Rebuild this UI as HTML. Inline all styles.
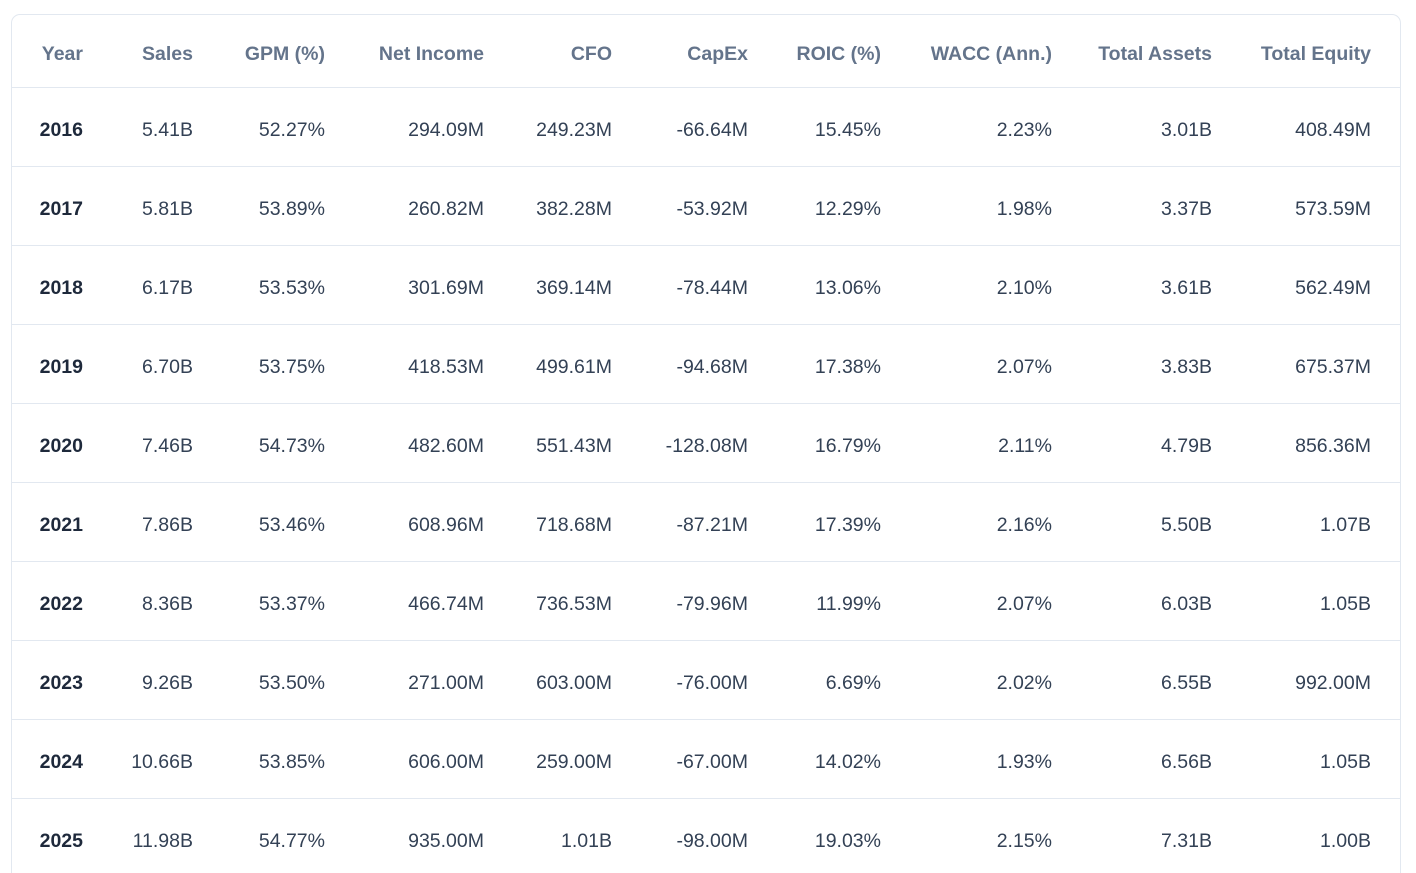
<!DOCTYPE html>
<html style="margin:0;width:1416px;height:873px;overflow:hidden"><head><meta charset="utf-8"><style>
body{margin:0;background:#fff;width:1416px;height:873px;overflow:hidden;position:relative;font-family:"Liberation Sans",sans-serif;}
.card{position:absolute;left:11px;top:14px;width:1388px;height:880px;border:1px solid #e2e8f0;border-radius:9px;}
.row{position:absolute;left:12px;width:1388px;border-bottom:1px solid #e2e8f0;}
.c{position:absolute;white-space:nowrap;text-align:right;font-size:19.5px;line-height:22px;}
.h .c{color:#64748b;font-weight:600;}
.d .c{color:#334155;}
.d .c.y{font-weight:bold;color:#1e293b;}
</style></head><body>
<div class="card"></div>
<div id="t"></div>
<script>
const R=[83,193,325,484,612,748,881,1052,1212,1371];
const H=["Year","Sales","GPM (%)","Net Income","CFO","CapEx","ROIC (%)","WACC (Ann.)","Total Assets","Total Equity"];
const D=[
["2016","5.41B","52.27%","294.09M","249.23M","-66.64M","15.45%","2.23%","3.01B","408.49M"],
["2017","5.81B","53.89%","260.82M","382.28M","-53.92M","12.29%","1.98%","3.37B","573.59M"],
["2018","6.17B","53.53%","301.69M","369.14M","-78.44M","13.06%","2.10%","3.61B","562.49M"],
["2019","6.70B","53.75%","418.53M","499.61M","-94.68M","17.38%","2.07%","3.83B","675.37M"],
["2020","7.46B","54.73%","482.60M","551.43M","-128.08M","16.79%","2.11%","4.79B","856.36M"],
["2021","7.86B","53.46%","608.96M","718.68M","-87.21M","17.39%","2.16%","5.50B","1.07B"],
["2022","8.36B","53.37%","466.74M","736.53M","-79.96M","11.99%","2.07%","6.03B","1.05B"],
["2023","9.26B","53.50%","271.00M","603.00M","-76.00M","6.69%","2.02%","6.55B","992.00M"],
["2024","10.66B","53.85%","606.00M","259.00M","-67.00M","14.02%","1.93%","6.56B","1.05B"],
["2025","11.98B","54.77%","935.00M","1.01B","-98.00M","19.03%","2.15%","7.31B","1.00B"]];
let h='';
function row(cells,top,ht,cls,last){
 let s='<div class="row '+cls+'" style="top:'+top+'px;height:'+(ht-1)+'px'+(last?';border-bottom:none':'')+'">';
 cells.forEach((t,i)=>{s+='<div class="c'+(i==0&&cls=='d'?' y':'')+'" style="right:'+(1400-R[i])+'px;top:'+((ht-22)/2+2)+'px">'+t+'</div>';});
 return s+'</div>';
}
h+=row(H,15,73,'h');
D.forEach((r,i)=>{h+=row(r,88+i*79,79,'d',i==9);});
document.getElementById('t').innerHTML=h;
</script>
</body></html>
